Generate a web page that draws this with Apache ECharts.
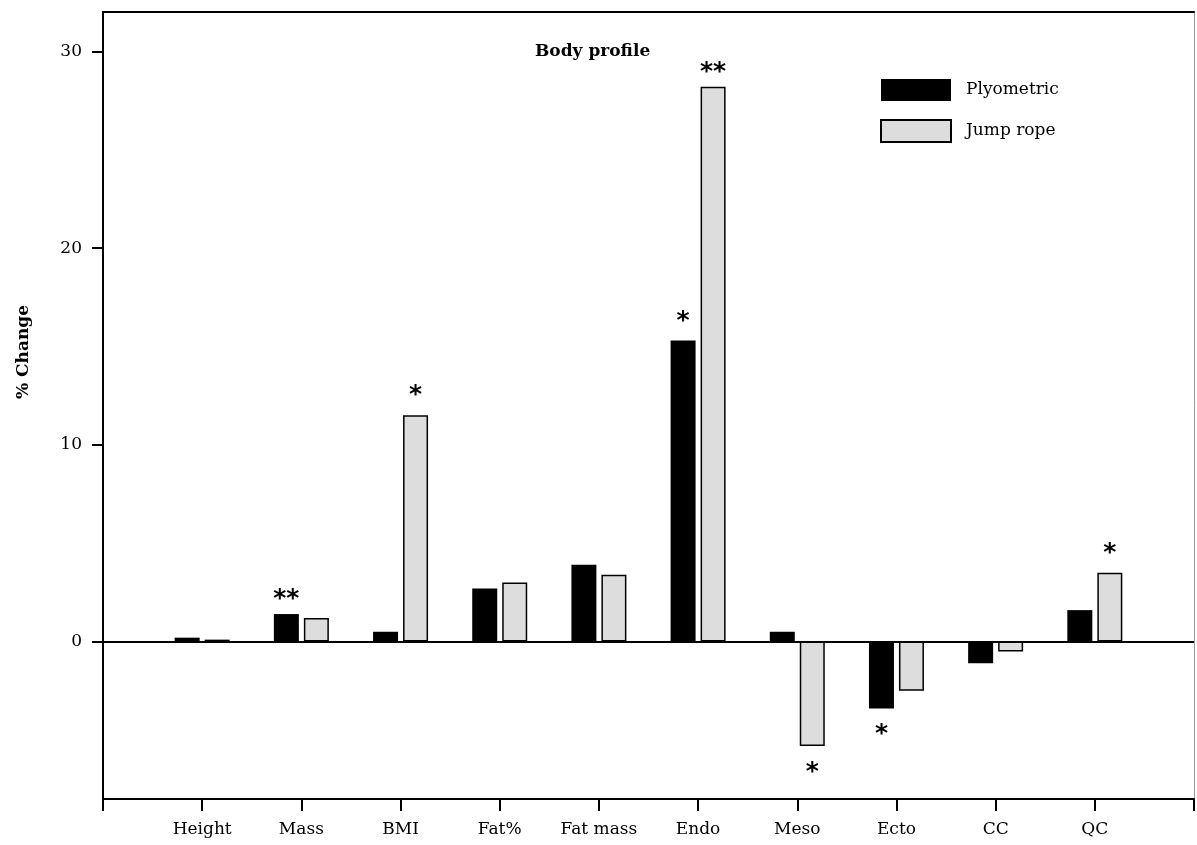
<!DOCTYPE html>
<html>
<head>
<meta charset="utf-8">
<script src="https://cdn.jsdelivr.net/npm/echarts@6/dist/echarts.min.js"></script>
<style>html,body{margin:0;padding:0;background:#fff;}#c{width:1197px;height:845px;}</style>
</head>
<body>
<div id="c"></div>
<script>
const categories = ['Height','Mass','BMI','Fat%','Fat mass','Endo','Meso','Ecto','CC','QC'];
const plyometric = [0.2, 1.4, 0.5, 2.7, 3.9, 15.3, 0.5, -3.4, -1.1, 1.6];
const jumpRope   = [0.1, 1.2, 11.5, 3.0, 3.4, 28.2, -5.3, -2.5, -0.5, 3.5];
const plyoSig = ['', '**', '', '', '', '*', '', '*', '', ''];
const jumpSig = ['', '', '*', '', '', '**', '*', '', '', '*'];
const yTicks = [0, 10, 20, 30];

const SERIF = 'DejaVu Serif';
const axisData = [''].concat(categories, ['']);

function buildData(vals, sig) {
  const out = [null];
  vals.forEach((v, i) => {
    out.push({
      value: v,
      label: {
        show: sig[i] !== '',
        formatter: sig[i],
        position: v < 0 ? 'bottom' : 'top',
        distance: v < 0 ? 14 : (sig[i] === '**' ? 2 : 7)
      }
    });
  });
  out.push(null);
  return out;
}

const starLabel = {
  fontFamily: 'DejaVu Sans',
  fontWeight: 'bold',
  fontSize: 25,
  color: '#000'
};

const chart = echarts.init(document.getElementById('c'), null, {renderer: 'canvas'});
chart.setOption({
  animation: false,
  backgroundColor: '#fff',
  title: {
    text: 'Body profile',
    left: 530, top: 38,
    textStyle: {fontFamily: SERIF, fontWeight: 'bold', fontSize: 17, color: '#000'}
  },
  legend: {
    orient: 'vertical',
    left: 875, top: 74,
    itemWidth: 70, itemHeight: 22, itemGap: 18,
    icon: 'rect',
    textStyle: {fontFamily: SERIF, fontSize: 17, color: '#000', padding: [0, 0, 0, 10]},
    data: ['Plyometric', 'Jump rope']
  },
  graphic: [{
    type: 'text',
    rotation: Math.PI / 2,
    x: 15, y: 352,
    style: {text: '% Change', fontFamily: SERIF, fontWeight: 'bold', fontSize: 17, fill: '#000',
            textAlign: 'center', textVerticalAlign: 'top'}
  }],
  grid: {left: 103, right: 1, top: 12, bottom: 46, containLabel: false},
  xAxis: [{
    type: 'category',
    data: axisData,
    boundaryGap: false,
    axisLine: {show: true, onZero: false, lineStyle: {color: '#000', width: 2}},
    axisTick: {show: true, alignWithLabel: true, interval: 0, length: 12, lineStyle: {color: '#000', width: 2}},
    axisLabel: {interval: 0, margin: 22, fontFamily: SERIF, fontSize: 17, color: '#000'},
    splitLine: {show: false}
  }, {
    type: 'value', position: 'top', min: 0, max: 1,
    axisLine: {show: true, onZero: false, lineStyle: {color: '#000', width: 2}},
    axisTick: {show: false}, axisLabel: {show: false}, splitLine: {show: false}
  }],
  yAxis: [{
    type: 'value',
    min: -8, max: 32,
    axisLine: {show: true, onZero: false, lineStyle: {color: '#000', width: 2}},
    axisTick: {show: true, customValues: yTicks, length: 11, lineStyle: {color: '#000', width: 2}},
    axisLabel: {customValues: yTicks, margin: 21, fontFamily: SERIF, fontSize: 17, color: '#000'},
    splitLine: {show: false}
  }, {
    type: 'value', position: 'right', min: 0, max: 1,
    axisLine: {show: true, onZero: false, lineStyle: {color: '#999', width: 1}},
    axisTick: {show: false}, axisLabel: {show: false}, splitLine: {show: false}
  }],
  series: [{
    name: 'Plyometric',
    type: 'bar',
    barWidth: 25,
    barGap: '20%',
    itemStyle: {color: '#000', borderColor: '#000', borderWidth: 0},
    label: starLabel,
    data: buildData(plyometric, plyoSig),
    markLine: {
      silent: true,
      symbol: ['none', 'none'],
      label: {show: false},
      lineStyle: {color: '#000', width: 2, type: 'solid'},
      data: [{yAxis: 0}]
    },
    z: 3
  }, {
    name: 'Jump rope',
    type: 'bar',
    barWidth: 25,
    itemStyle: {color: '#dcdddc', borderColor: '#000', borderWidth: 1.5},
    label: starLabel,
    data: buildData(jumpRope, jumpSig),
    z: 3
  }]
});
</script>
</body>
</html>
